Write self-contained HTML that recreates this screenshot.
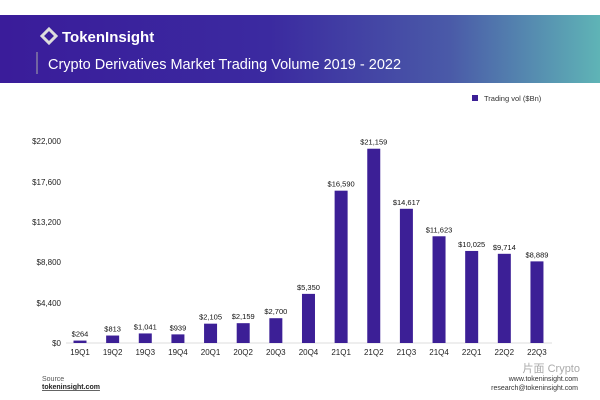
<!DOCTYPE html><html><head><style>
body{margin:0;width:600px;height:400px;background:#fff;font-family:"Liberation Sans",sans-serif;overflow:hidden;position:relative}
.ban{position:absolute;left:0;top:15px;width:600px;height:68px;background:linear-gradient(90deg,#3a1c9a 0%,#3b2aa0 45%,#4a5aa8 75%,#5fb4b6 100%)}
</style></head><body>
<div class="ban"></div>
<svg width="600" height="400" style="position:absolute;left:0;top:0">
<g transform="translate(49,36)"><path d="M0 -7 L7 0 L0 7 L-7 0Z" fill="none" stroke="#ddd" stroke-width="3"/></g>
<text x="62" y="42" fill="#fff" font-size="15" font-weight="bold">TokenInsight</text>
<line x1="37" y1="52" x2="37" y2="74" stroke="#aaa" stroke-width="1"/>
<text x="48" y="69" fill="#fff" font-size="14.5">Crypto Derivatives Market Trading Volume 2019 - 2022</text>
<rect x="472" y="95" width="6" height="6" fill="#3c1f96"/>
<text x="484" y="101" font-size="7.5" fill="#333">Trading vol ($Bn)</text>
<g font-size="8" fill="#222" text-anchor="end">
<text x="61" y="346">$0</text><text x="61" y="306">$4,400</text><text x="61" y="265">$8,800</text>
<text x="61" y="225">$13,200</text><text x="61" y="185">$17,600</text><text x="61" y="144">$22,000</text>
</g>
<line x1="66" y1="343" x2="552" y2="343" stroke="#ddd"/>
<g id="b" fill="#3c1f96"></g>
<g id="l" font-size="7.5" fill="#111" text-anchor="middle"></g>
<g id="x" font-size="8" fill="#222" text-anchor="middle"></g>
<text x="42" y="381" font-size="7" fill="#555">Source</text>
<text x="42" y="389" font-size="7" fill="#222" font-weight="bold" text-decoration="underline">tokeninsight.com</text>
<text x="580" y="372" font-size="11" fill="#aaa" text-anchor="end">片面 Crypto</text>
<text x="578" y="381" font-size="7" fill="#333" text-anchor="end">www.tokeninsight.com</text>
<text x="578" y="390" font-size="7" fill="#333" text-anchor="end">research@tokeninsight.com</text>
</svg>
<script>
var v=[264,813,1041,939,2105,2159,2700,5350,16590,21159,14617,11623,10025,9714,8889],
n=["19Q1","19Q2","19Q3","19Q4","20Q1","20Q2","20Q3","20Q4","21Q1","21Q2","21Q3","21Q4","22Q1","22Q2","22Q3"];
var b=document.getElementById('b'),l=document.getElementById('l'),x=document.getElementById('x'),s='',t='',u='';
v.forEach(function(d,i){var c=80+i*32.64,h=d*202/22000,y=343-h;
s+='<rect x="'+(c-6.5)+'" y="'+y+'" width="13" height="'+h+'"/>';
t+='<text x="'+c+'" y="'+(y-4)+'">$'+d.toLocaleString('en-US')+'</text>';
u+='<text x="'+c+'" y="355">'+n[i]+'</text>';});
b.innerHTML=s;l.innerHTML=t;x.innerHTML=u;
</script>
</body></html>
